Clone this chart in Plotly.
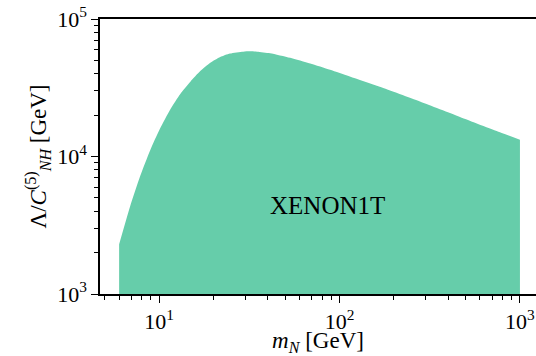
import numpy as np
import plotly.graph_objects as go

# Upper edge of the XENON1T excluded region (heavy neutral lepton mass vs. scale)
m_N = [6.0, 6.9, 7.85, 8.92, 10.1, 11.5, 13.1, 14.9, 16.9, 19.2, 21.8, 24.7,
       29.2, 31.9, 34.9, 41.2, 53.2, 68.7, 88.6, 114, 167, 279, 465, 775, 1000]
lam_upper = [2300, 4330, 7200, 11100, 15900, 21900, 28500, 35000, 41800, 48000,
             52900, 56100, 57900, 58200, 57900, 56400, 52200, 47400, 42700, 38200,
             32100, 25100, 19400, 15000, 13240]
lam_floor = 1e3

x_ticks = [10, 100, 1000]
x_ticktext = ["10<sup>1</sup>", "10<sup>2</sup>", "10<sup>3</sup>"]
y_ticks = [1e3, 1e4, 1e5]
y_ticktext = ["10<sup>3</sup>", "10<sup>4</sup>", "10<sup>5</sup>"]
x_minor = [d * 10 ** e for e in range(0, 4) for d in range(2, 10)]
y_minor = [d * 10 ** e for e in range(3, 5) for d in range(2, 10)]

fill_color = "#66CDAA"
serif = '"Liberation Serif", "DejaVu Serif", serif'

fig = go.Figure()
# floor of the region, then the smoothed upper edge filled down to it
fig.add_trace(go.Scatter(
    x=[m_N[0], m_N[-1]], y=[lam_floor, lam_floor], mode="lines",
    line=dict(color=fill_color, width=0), hoverinfo="skip", showlegend=False,
))
fig.add_trace(go.Scatter(
    x=m_N, y=lam_upper, mode="lines", fill="tonexty",
    fillcolor=fill_color, line=dict(color=fill_color, width=0, shape="spline", smoothing=0.6),
    hoverinfo="skip", showlegend=False,
))

fig.add_annotation(x=np.log10(86), y=np.log10(4430), text="XENON1T", showarrow=False,
                   font=dict(family=serif, size=25, color="black"))

axis_common = dict(
    type="log", showline=True, linecolor="black", linewidth=1.5,
    showgrid=False, zeroline=False,
    ticks="outside", ticklen=7, tickwidth=1.2, tickcolor="black",
)

fig.update_layout(
    width=536, height=356,
    margin=dict(l=100, r=0, t=19, b=62),
    plot_bgcolor="white", paper_bgcolor="white",
    font=dict(family=serif, size=22, color="black"),
    xaxis=dict(
        **axis_common, range=[np.log10(4.7), 3.089], mirror=True,
        tickvals=x_ticks, ticktext=x_ticktext,
        minor=dict(tickmode="array", tickvals=x_minor, ticks="outside", ticklen=4,
                   tickwidth=1, tickcolor="black", showgrid=False),
        title=dict(text="<i>m</i><sub><i>N</i></sub> [GeV]", standoff=4, font=dict(size=23)),
    ),
    yaxis=dict(
        **axis_common, range=[3, 5], mirror=False,
        tickvals=y_ticks, ticktext=y_ticktext,
        minor=dict(tickmode="array", tickvals=y_minor, ticks="outside", ticklen=4,
                   tickwidth=1, tickcolor="black", showgrid=False),
        title=dict(text="Λ/<i>C</i><sup>(5)</sup><sub><i>NH</i></sub> [GeV]", standoff=4, font=dict(size=23)),
    ),
)

fig.write_html("out.html")
